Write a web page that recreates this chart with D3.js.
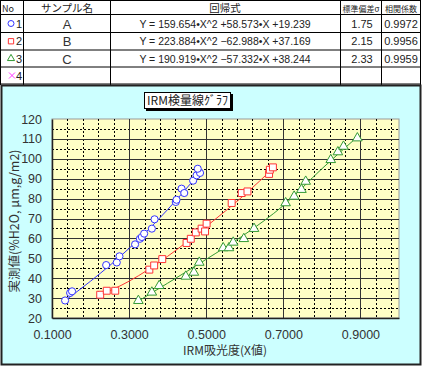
<!DOCTYPE html>
<html>
<head>
<meta charset="utf-8">
<script src="https://cdn.jsdelivr.net/npm/d3@7"></script>
<style>
body { margin: 0; background: #fff; }
text { font-family: "Liberation Sans", Arial, "Noto Sans CJK JP", sans-serif; }
.jp { font-family: "Noto Sans CJK JP", sans-serif; }
</style>
</head>
<body>
<div id="container"></div>
<script>
// table rows
var sampleNames = ["A", "B", "C", ""];
var formulas = ["Y = 159.654*X^2 +58.573*X +19.239", "Y = 223.884*X^2 \u221262.988*X +37.169", "Y = 190.919*X^2 \u221257.332*X +38.244", ""];
var sigmas = ["1.75", "2.15", "2.33", ""];
var corrs = ["0.9972", "0.9956", "0.9959", ""];
var seriesColors = ["#3333ff", "#ff3333", "#339933", "#ff33ff"];
var seriesSymbols = ["circle", "square", "triangle", "cross"];

// measured points [x, y]
var pointsA = [[0.134,28.8],[0.147,32.6],[0.152,33.4],[0.2405,46.6],[0.268,47.9],[0.275,51],[0.3155,57],
  [0.328,59.8],[0.333,60.7],[0.339,62.4],[0.359,64.9],[0.366,69.6],[0.421,78.3],[0.423,79.4],[0.436,85],
  [0.443,82.8],[0.466,89],[0.475,91.7],[0.484,92.9],[0.478,95]];
var pointsB = [[0.225,31.7],[0.242,33.7],[0.264,33.7],[0.3525,44.3],[0.365,46.4],[0.386,49.6],[0.449,57.7],
  [0.46,59.8],[0.473,63],[0.488,64.9],[0.497,63.5],[0.501,67.4],[0.566,77.8],[0.592,82.8],[0.607,83.6],
  [0.663,92.4],[0.665,94.5],[0.673,95.7]];
var pointsC = [[0.324,28.7],[0.359,32.9],[0.378,36.2],[0.447,40.9],[0.468,42.9],[0.482,47.9],[0.544,55.2],
  [0.559,55.2],[0.57,58],[0.5975,59.8],[0.624,64.9],[0.706,77.8],[0.728,81.1],[0.747,84.5],[0.758,88.6],
  [0.823,99.5],[0.8415,103.4],[0.856,106.2],[0.892,110.4]];

// regression curves
var fitA = [[0.134,28.8],[0.2,38.5],[0.3,55],[0.4,74.5],[0.49,94.5]];
var fitB = [[0.225,31.5],[0.3,38.5],[0.4,51],[0.5,66],[0.6,82],[0.675,95.5]];
var fitC = [[0.324,28.5],[0.4,37.5],[0.5,49.5],[0.6,62],[0.7,76.5],[0.8,95],[0.892,111]];

var xTicks = [0.1, 0.3, 0.5, 0.7, 0.9];
var yTicks = [20, 30, 40, 50, 60, 70, 80, 90, 100, 110, 120];

var w = 422, h = 366;
var svg = d3.select("#container").append("svg").attr("width", w).attr("height", h);

// ---- table ----
var colX = [0.5, 23.5, 110.5, 340.5, 381.5, 420.5];
var rowY = [0.5, 14.5, 32.5, 50, 67, 84];
var tbl = svg.append("g");
tbl.append("rect").attr("x", 0).attr("y", 0).attr("width", 421).attr("height", 85).attr("fill", "#fff");
colX.forEach(function(x) {
  tbl.append("line").attr("x1", x).attr("x2", x).attr("y1", 0).attr("y2", 85).attr("stroke", "#000");
});
rowY.forEach(function(y) {
  tbl.append("line").attr("x1", 0).attr("x2", 421).attr("y1", y).attr("y2", y).attr("stroke", "#000");
});
var headers = [["No", 2, "start", 9], ["サンプル名", 67, "middle", 10.5], ["回帰式", 225, "middle", 10.5], ["標準偏差σ", 361, "middle", 8], ["相関係数", 401, "middle", 8]];
headers.forEach(function(d) {
  tbl.append("text").attr("class", "jp").attr("x", d[1]).attr("y", 11.5).attr("text-anchor", d[2])
    .attr("font-size", d[3]).attr("fill", "#222").text(d[0]);
});
var symGen = d3.symbol();
sampleNames.forEach(function(name, i) {
  var cy = (rowY[i + 1] + rowY[i + 2]) / 2;
  var t = seriesSymbols[i];
  if (t == "cross") {
    tbl.append("path").attr("d", "M-3,-3L3,3M-3,3L3,-3").attr("transform", "translate(12," + cy + ")")
      .attr("stroke", seriesColors[i]).attr("fill", "none");
  } else {
    var type = t == "circle" ? d3.symbolCircle : t == "square" ? d3.symbolSquare : d3.symbolTriangle;
    tbl.append("path").attr("d", symGen.type(type).size(t == "triangle" ? 22 : 28)())
      .attr("transform", "translate(11," + cy + ")").attr("fill", "#fff").attr("stroke", seriesColors[i]);
  }
  tbl.append("text").attr("x", 16).attr("y", cy + 4).attr("font-size", 11).attr("fill", "#222").text(i + 1);
  tbl.append("text").attr("x", 67).attr("y", cy + 5).attr("text-anchor", "middle").attr("font-size", 13).attr("fill", "#333").text(name);
  tbl.append("text").attr("x", 225).attr("y", cy + 4).attr("text-anchor", "middle").attr("font-size", 10.5).attr("fill", "#222").text(formulas[i].replace(/\*/g, "\u2022"));
  tbl.append("text").attr("x", 362).attr("y", cy + 4).attr("text-anchor", "middle").attr("font-size", 11).attr("fill", "#222").text(sigmas[i]);
  tbl.append("text").attr("x", 401).attr("y", cy + 4).attr("text-anchor", "middle").attr("font-size", 11).attr("fill", "#222").text(corrs[i]);
});

// ---- chart ----
svg.append("rect").attr("x", 1.5).attr("y", 85.5).attr("width", 419).attr("height", 279)
  .attr("fill", "#ccffff").attr("stroke", "#222").attr("stroke-width", 2);

var x = d3.scaleLinear().domain([0.1, 1.0]).range([52, 399]);
var y = d3.scaleLinear().domain([20, 120]).range([318, 119]);

svg.append("rect").attr("x", x(0.1)).attr("y", y(120)).attr("width", x(1.0) - x(0.1)).attr("height", y(20) - y(120))
  .attr("fill", "#ffffc6").attr("stroke", "#999");

var grid = svg.append("g");
// minor grid
grid.selectAll(".mx").data(d3.range(1, 23).map(function(i) { return 0.1 + i * 0.04; }).filter(function(v) { return v < 0.999; }))
  .enter().append("line")
  .attr("x1", function(d) { return Math.round(x(d)) + 0.5; }).attr("x2", function(d) { return Math.round(x(d)) + 0.5; })
  .attr("y1", y(120)).attr("y2", y(20)).attr("stroke", "#000").attr("stroke-dasharray", "2,2");
grid.selectAll(".my").data(d3.range(25, 120, 10)).enter().append("line")
  .attr("y1", function(d) { return Math.round(y(d)) + 0.5; }).attr("y2", function(d) { return Math.round(y(d)) + 0.5; })
  .attr("x1", x(0.1)).attr("x2", x(1.0)).attr("stroke", "#000").attr("stroke-dasharray", "2,2");
// major grid
grid.selectAll(".Mx").data(xTicks.slice(1)).enter().append("line")
  .attr("x1", function(d) { return Math.round(x(d)) + 0.5; }).attr("x2", function(d) { return Math.round(x(d)) + 0.5; })
  .attr("y1", y(120)).attr("y2", y(20)).attr("stroke", "#333");
grid.selectAll(".My").data(yTicks.slice(1, -1)).enter().append("line")
  .attr("y1", function(d) { return Math.round(y(d)) + 0.5; }).attr("y2", function(d) { return Math.round(y(d)) + 0.5; })
  .attr("x1", x(0.1)).attr("x2", x(1.0)).attr("stroke", "#333");

// axes
var xAxis = svg.append("g").attr("transform", "translate(0," + y(20) + ")")
  .call(d3.axisBottom(x).tickValues(xTicks).tickSize(0).tickPadding(12).tickFormat(d3.format(".4f")));
var yAxis = svg.append("g").attr("transform", "translate(" + x(0.1) + ",0)")
  .call(d3.axisLeft(y).tickValues(yTicks).tickSize(0).tickPadding(10));
[xAxis, yAxis].forEach(function(a) {
  a.select(".domain").attr("stroke", "#222").attr("stroke-width", 1.5);
  a.selectAll("text").attr("font-size", 12.5).attr("fill", "#333").attr("font-family", "Liberation Sans, Arial, sans-serif");
});

// fit lines
var line = d3.line().x(function(d) { return x(d[0]); }).y(function(d) { return y(d[1]); }).curve(d3.curveMonotoneX);
[fitA, fitB, fitC].forEach(function(f, i) {
  svg.append("path").datum(f).attr("d", line).attr("fill", "none").attr("stroke", seriesColors[i]).attr("stroke-width", 1);
});

// markers
var sets = [pointsA, pointsB, pointsC];
var types = [d3.symbolCircle, d3.symbolSquare, d3.symbolTriangle];
var sizes = [40, 48, 40];
sets.forEach(function(pts, i) {
  svg.append("g").selectAll("path").data(pts).enter().append("path")
    .attr("d", d3.symbol().type(types[i]).size(sizes[i]))
    .attr("transform", function(d) { return "translate(" + x(d[0]) + "," + y(d[1]) + ")"; })
    .attr("fill", "#fff").attr("stroke", seriesColors[i]).attr("stroke-width", 1);
});

// title box
svg.append("rect").attr("x", 146).attr("y", 94).attr("width", 87).attr("height", 17).attr("fill", "#000");
svg.append("rect").attr("x", 144.5).attr("y", 92.5).attr("width", 86).attr("height", 16).attr("fill", "#fff").attr("stroke", "#000");
svg.append("text").attr("class", "jp").attr("x", 147).attr("y", 105).attr("font-size", 12)
  .attr("textLength", 81).attr("lengthAdjust", "spacingAndGlyphs").attr("fill", "#222").text("IRM検量線ｸﾞﾗﾌ");

// axis titles
svg.append("text").attr("class", "jp").attr("x", 225).attr("y", 355).attr("text-anchor", "middle")
  .attr("font-size", 12).attr("fill", "#333").text("IRM吸光度(X値)");
svg.append("text").attr("class", "jp").attr("transform", "translate(19,221) rotate(-90)").attr("text-anchor", "middle")
  .attr("font-size", 12.5).attr("fill", "#333").text("実測値(%H2O, μm,g/m2)");
</script>
</body>
</html>
